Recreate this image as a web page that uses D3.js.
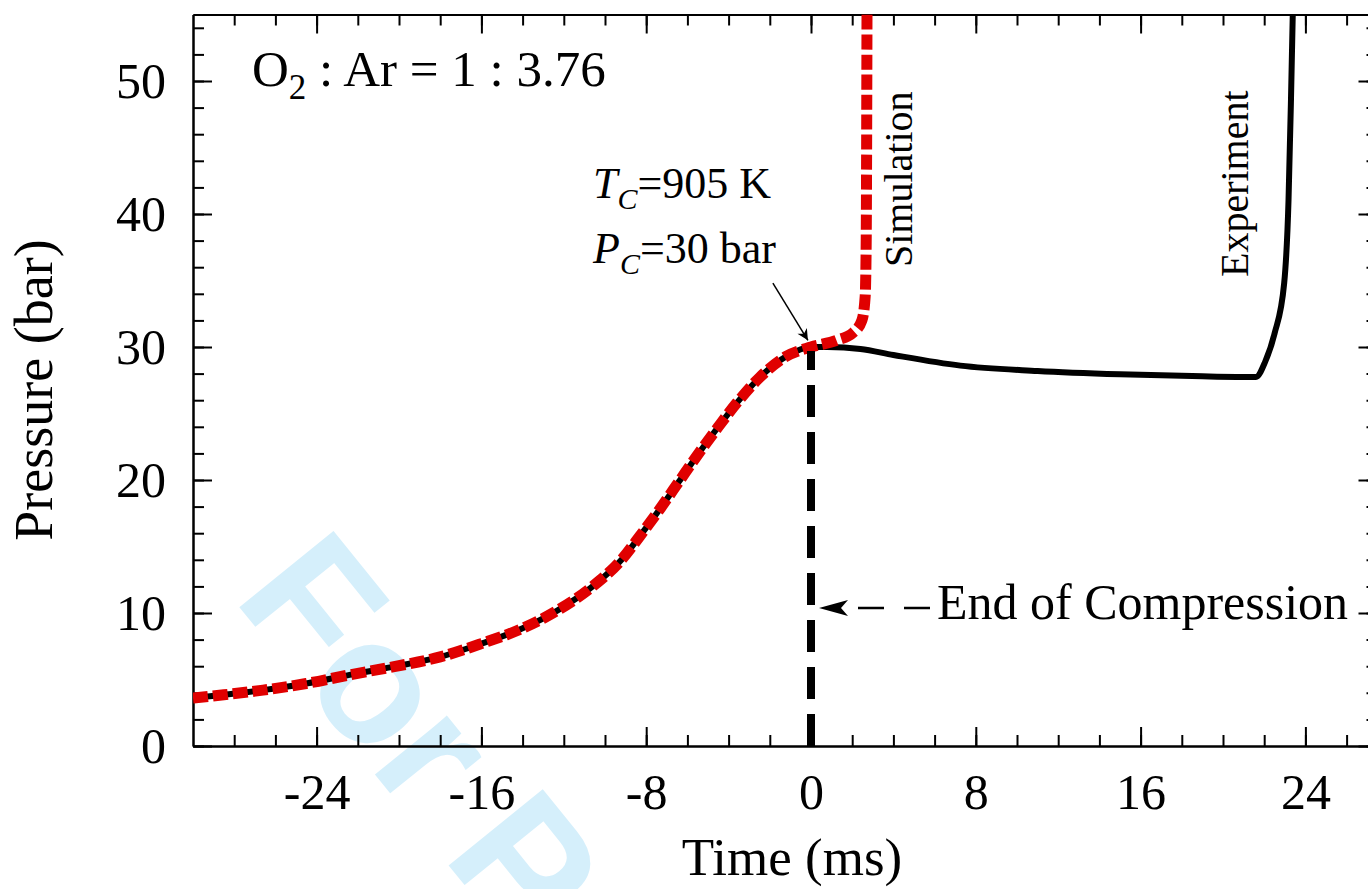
<!DOCTYPE html>
<html>
<head>
<meta charset="utf-8">
<script src="https://cdn.jsdelivr.net/npm/d3@7"></script>
<style>
	body { margin: 0; background: #fff; }
	svg { display: block; background: #fff; }
	text { font-family: 'Liberation Serif', 'Times New Roman', serif; fill: #000; white-space: pre; }
	.tick line, .domain { stroke: #000; stroke-width: 2; }
	.tick text { font-size: 50px; }
</style>
</head>
<body>
<svg id="chart" width="1368" height="889"></svg>
<script>
'use strict';

// compression stroke, shared by the experiment and the simulation
var compressionTime = [-30, -28.5, -26.6, -24.5, -22.4, -20.3, -18, -16, -14, -12.3, -10.6, -9.2, -8.3, -7.3, -6.4, -5.5, -4.5, -3.6, -2.5, -1.2, 0];
var compressionPressure = [3.6, 3.85, 4.2, 4.7, 5.35, 5.95, 6.7, 7.7, 8.85, 10.2, 12.0, 14.0, 15.8, 17.9, 19.9, 21.9, 24.0, 25.8, 27.7, 29.3, 30.0];

// after end of compression
var experimentTime = [0.8, 2.4, 4, 7.25, 11, 15, 19, 21.6, 22.05, 22.5, 22.97, 23.18, 23.3, 23.4];
var experimentPressure = [30.0, 29.85, 29.4, 28.6, 28.2, 27.95, 27.8, 27.75, 28.9, 31.0, 34.8, 41.0, 48.6, 56];
var simulationTime = [1.25, 2.06, 2.47, 2.63, 2.68, 2.72];
var simulationPressure = [30.5, 31.1, 32.0, 33.8, 38, 56];

var endOfCompressionTime = 0;
var endOfCompressionPressure = 29.7;

var timeTicks = [-24, -16, -8, 0, 8, 16, 24];
var timeMinorTicks = d3.range(-28, 28, 2);
var pressureTicks = [0, 10, 20, 30, 40, 50];
var pressureMinorTicks = d3.range(0, 56, 2);

(function() {

	var zip = function(ts, ps) {
		return ts.map(function(t, i) {
			return [t, ps[i]];
		});
	};

	var experiment = zip(compressionTime, compressionPressure).concat(zip(experimentTime, experimentPressure));
	var simulation = zip(compressionTime, compressionPressure).concat(zip(simulationTime, simulationPressure));

	var svg = d3.select('svg#chart');

	var x = d3.scaleLinear().domain([-30, 27.5]).range([193, 1377.5]);
	var y = d3.scaleLinear().domain([0, 55]).range([746, 14.5]);

	// watermark, sits under everything
	svg.append('text')
		.attr('transform', 'translate(232,598) rotate(51)')
		.style('font-family', "'Liberation Sans', Arial, sans-serif")
		.style('font-weight', 'bold')
		.style('font-size', '176px')
		.style('fill', '#d5effb')
		.text('For Peer Review');

	svg.append('clipPath').attr('id', 'plot')
		.append('rect')
		.attr('x', x(-30)).attr('y', y(55))
		.attr('width', x(27.5) - x(-30)).attr('height', y(0) - y(55));

	// frame with inward ticks on all four sides
	var frame = function(axis, tx, ty) {
		var g = svg.append('g').attr('transform', 'translate(' + tx + ',' + ty + ')').call(axis);
		g.attr('font-family', null).attr('font-size', null);
		return g;
	};
	var noLabel = function() { return ''; };

	frame(d3.axisBottom(x).tickValues(timeMinorTicks).tickSize(-11).tickSizeOuter(0).tickFormat(noLabel), 0, y(0));
	frame(d3.axisBottom(x).tickValues(timeTicks).tickSize(-19).tickSizeOuter(0).tickPadding(27.5)
		.tickFormat(function(d) { return String(d); }), 0, y(0));
	frame(d3.axisTop(x).tickValues(timeMinorTicks).tickSize(-11).tickSizeOuter(0).tickFormat(noLabel), 0, y(55));
	frame(d3.axisTop(x).tickValues(timeTicks).tickSize(-19).tickSizeOuter(0).tickFormat(noLabel), 0, y(55));

	frame(d3.axisLeft(y).tickValues(pressureMinorTicks).tickSize(-11).tickSizeOuter(0).tickFormat(noLabel), x(-30), 0);
	frame(d3.axisLeft(y).tickValues(pressureTicks).tickSize(-19).tickSizeOuter(0).tickPadding(27)
		.tickFormat(function(d) { return String(d); }), x(-30), 0);
	frame(d3.axisRight(y).tickValues(pressureMinorTicks).tickSize(-11).tickSizeOuter(0).tickFormat(noLabel), x(27.5), 0);
	frame(d3.axisRight(y).tickValues(pressureTicks).tickSize(-19).tickSizeOuter(0).tickFormat(noLabel), x(27.5), 0);

	var line = d3.line()
		.x(function(d) { return x(d[0]); })
		.y(function(d) { return y(d[1]); })
		.curve(d3.curveMonotoneX);

	var plot = svg.append('g').attr('clip-path', 'url(#plot)');

	plot.append('path')
		.datum(experiment)
		.attr('d', line)
		.attr('fill', 'none')
		.attr('stroke', '#000')
		.attr('stroke-width', 6);

	plot.append('path')
		.datum(simulation)
		.attr('d', line)
		.attr('fill', 'none')
		.attr('stroke', '#e00000')
		.attr('stroke-width', 11)
		.attr('stroke-dasharray', '15,5');

	// end of compression marker
	plot.append('line')
		.attr('x1', x(endOfCompressionTime)).attr('y1', y(0))
		.attr('x2', x(endOfCompressionTime)).attr('y2', y(endOfCompressionPressure))
		.attr('stroke', '#000')
		.attr('stroke-width', 8)
		.attr('stroke-dasharray', '32,15');

	// legend for the marker
	var ly = 608;
	var lx = x(endOfCompressionTime) + 8;
	svg.append('path')
		.attr('d', 'M' + lx + ',' + ly + 'L' + (lx + 29) + ',' + (ly - 8) + 'L' + (lx + 22) + ',' + ly + 'L' + (lx + 29) + ',' + (ly + 8) + 'Z')
		.attr('fill', '#000');
	svg.append('line')
		.attr('x1', lx + 39).attr('y1', ly)
		.attr('x2', lx + 111).attr('y2', ly)
		.attr('stroke', '#000')
		.attr('stroke-width', 2.5)
		.attr('stroke-dasharray', '26,20');
	svg.append('text')
		.attr('x', lx + 118).attr('y', 619)
		.style('font-size', '50px')
		.text('End of Compression');

	// axis titles
	svg.append('text')
		.attr('x', 792).attr('y', 875)
		.attr('text-anchor', 'middle')
		.style('font-size', '53px')
		.text('Time (ms)');
	svg.append('text')
		.attr('transform', 'translate(52,390) rotate(-90)')
		.attr('text-anchor', 'middle')
		.style('font-size', '54px')
		.text('Pressure (bar)');

	// mixture
	var mix = svg.append('text').attr('x', 252).attr('y', 86).style('font-size', '51px');
	mix.append('tspan').text('O');
	mix.append('tspan').attr('dy', 13).style('font-size', '35px').text('2');
	mix.append('tspan').attr('dy', -13).text(' : Ar = 1 : 3.76');

	// compressed conditions
	var cond = function(sym, rest, baseline) {
		var t = svg.append('text').attr('x', 593).attr('y', baseline).style('font-size', '44px');
		t.append('tspan').style('font-style', 'italic').text(sym);
		t.append('tspan').attr('dy', 11).style('font-style', 'italic').style('font-size', '30px').text('C');
		t.append('tspan').attr('dy', -11).text(rest);
	};
	cond('T', '=905 K', 198);
	cond('P', '=30 bar', 263);

	var defs = svg.append('defs');
	defs.append('marker')
		.attr('id', 'head')
		.attr('viewBox', '0 0 10 10')
		.attr('markerUnits', 'userSpaceOnUse')
		.attr('markerWidth', 17).attr('markerHeight', 11)
		.attr('refX', 10).attr('refY', 5)
		.attr('orient', 'auto')
		.append('path')
		.attr('d', 'M0,0L10,5L0,10L3,5Z')
		.attr('fill', '#000');
	svg.append('line')
		.attr('x1', x(-1.85)).attr('y1', y(34.8))
		.attr('x2', x(-0.15)).attr('y2', y(30.5))
		.attr('stroke', '#000')
		.attr('stroke-width', 1.5)
		.attr('marker-end', 'url(#head)');

	// trace labels
	svg.append('text')
		.attr('transform', 'translate(912,267) rotate(-90)')
		.style('font-size', '40px')
		.text('Simulation');
	svg.append('text')
		.attr('transform', 'translate(1248,277) rotate(-90)')
		.style('font-size', '40px')
		.text('Experiment');
})();
</script>
</body>
</html>
